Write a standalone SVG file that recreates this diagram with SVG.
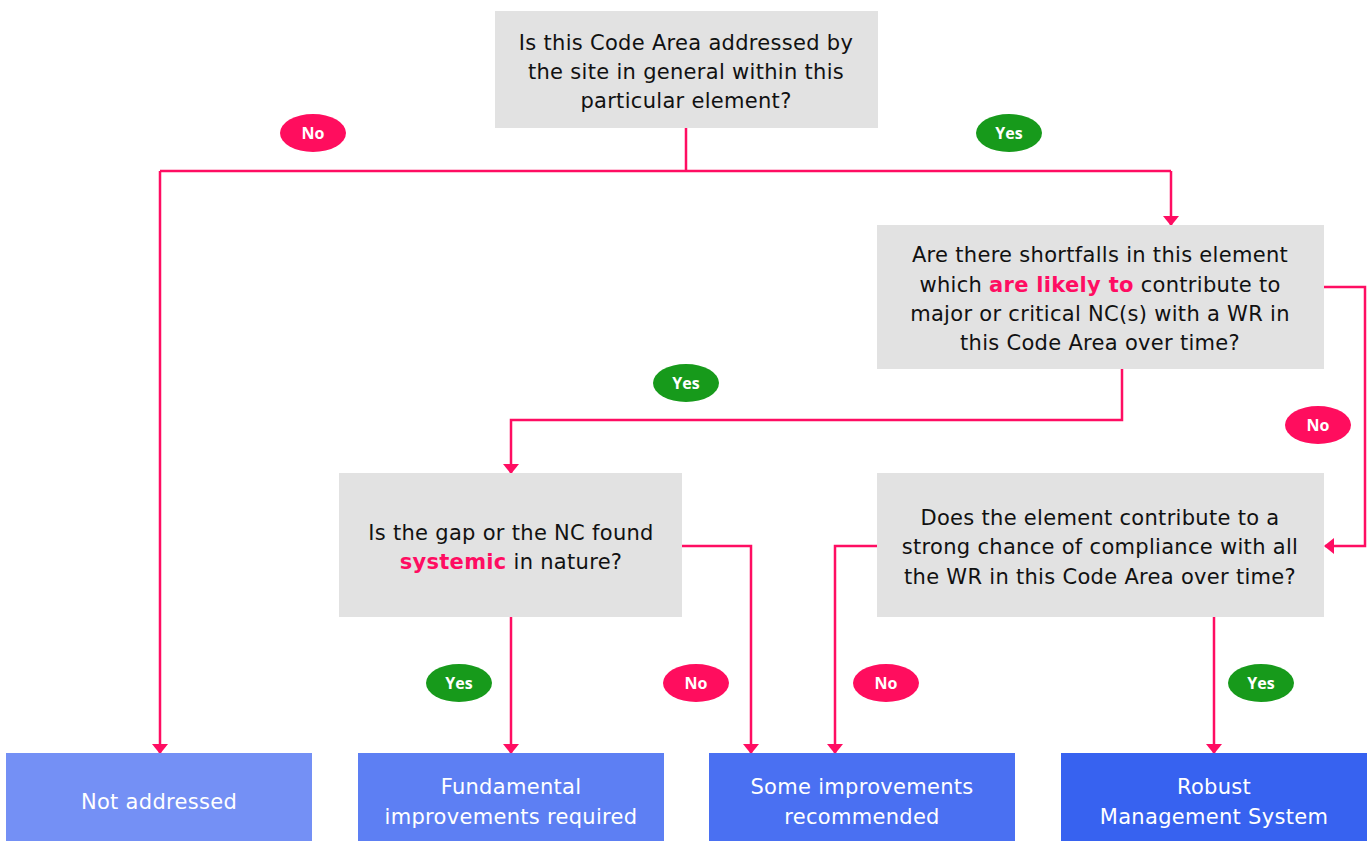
<svg xmlns="http://www.w3.org/2000/svg" width="1367" height="841" viewBox="0 0 1367 841">
<defs>
<marker id="ah" markerWidth="10" markerHeight="16" refX="9" refY="8" orient="auto" markerUnits="userSpaceOnUse">
<path d="M0,0 L10,8 L0,16 Z" fill="#ff0d62"/>
</marker>
<style>
.q{fill:#e2e2e2}
.qt{font-family:"DejaVu Sans","Liberation Sans",sans-serif;font-size:21px;letter-spacing:0.3px;fill:#111;text-anchor:middle}
.hl{fill:#ff0d62;font-weight:700}
.rt{font-family:"DejaVu Sans","Liberation Sans",sans-serif;font-size:21px;letter-spacing:0.3px;fill:#fff;text-anchor:middle}
.c{fill:none;stroke:#ff0d62;stroke-width:2.5}
.yes{fill:#179a1b}
.no{fill:#ff0d5e}
.pt{font-family:"Open Sans","Liberation Sans",sans-serif;font-size:16px;font-weight:700;fill:#fff;text-anchor:middle}
</style>
</defs>
<rect width="1367" height="841" fill="#fff"/>
<g id="connectors">
<path class="c" d="M686,128 V171 M160,171 H1171"/>
<path class="c" d="M160,171 V753" marker-end="url(#ah)"/>
<path class="c" d="M1171,171 V225" marker-end="url(#ah)"/>
<path class="c" d="M1122,369 V420 H511 V473" marker-end="url(#ah)"/>
<path class="c" d="M1324,287 H1365 V546 H1325" marker-end="url(#ah)"/>
<path class="c" d="M682,546 H751 V753" marker-end="url(#ah)"/>
<path class="c" d="M511,617 V753" marker-end="url(#ah)"/>
<path class="c" d="M877,546 H835 V753" marker-end="url(#ah)"/>
<path class="c" d="M1214,617 V753" marker-end="url(#ah)"/>
</g>
<g id="q1">
<rect class="q" x="495" y="11" width="383" height="117"/>
<text class="qt" x="686" y="50">Is this Code Area addressed by</text>
<text class="qt" x="686" y="79">the site in general within this</text>
<text class="qt" x="686" y="108">particular element?</text>
</g>
<g id="q2">
<rect class="q" x="877" y="225" width="447" height="144"/>
<text class="qt" x="1100" y="262">Are there shortfalls in this element</text>
<text class="qt" x="1100" y="292">which <tspan class="hl">are likely to</tspan> contribute to</text>
<text class="qt" x="1100" y="321">major or critical NC(s) with a WR in</text>
<text class="qt" x="1100" y="350">this Code Area over time?</text>
</g>
<g id="q3">
<rect class="q" x="339" y="473" width="343" height="144"/>
<text class="qt" x="511" y="540">Is the gap or the NC found</text>
<text class="qt" x="511" y="569"><tspan class="hl">systemic</tspan> in nature?</text>
</g>
<g id="q4">
<rect class="q" x="877" y="473" width="447" height="144"/>
<text class="qt" x="1100" y="525">Does the element contribute to a</text>
<text class="qt" x="1100" y="554">strong chance of compliance with all</text>
<text class="qt" x="1100" y="584">the WR in this Code Area over time?</text>
</g>
<g id="r1">
<rect x="6" y="753" width="306" height="88" fill="#7490f5"/>
<text class="rt" x="159" y="809">Not addressed</text>
</g>
<g id="r2">
<rect x="358" y="753" width="306" height="88" fill="#5d7ff3"/>
<text class="rt" x="511" y="794">Fundamental</text>
<text class="rt" x="511" y="824">improvements required</text>
</g>
<g id="r3">
<rect x="709" y="753" width="306" height="88" fill="#4a70f2"/>
<text class="rt" x="862" y="794">Some improvements</text>
<text class="rt" x="862" y="824">recommended</text>
</g>
<g id="r4">
<rect x="1061" y="753" width="306" height="88" fill="#3762f0"/>
<text class="rt" x="1214" y="794">Robust</text>
<text class="rt" x="1214" y="824">Management System</text>
</g>
<g id="labels">
<ellipse class="no" cx="313" cy="133" rx="33" ry="19"/><text class="pt" x="313" y="139">No</text>
<ellipse class="yes" cx="1009" cy="133" rx="33" ry="19"/><text class="pt" x="1009" y="139">Yes</text>
<ellipse class="yes" cx="686" cy="383" rx="33" ry="19"/><text class="pt" x="686" y="389">Yes</text>
<ellipse class="no" cx="1318" cy="425" rx="33" ry="19"/><text class="pt" x="1318" y="431">No</text>
<ellipse class="yes" cx="459" cy="683" rx="33" ry="19"/><text class="pt" x="459" y="689">Yes</text>
<ellipse class="no" cx="696" cy="683" rx="33" ry="19"/><text class="pt" x="696" y="689">No</text>
<ellipse class="no" cx="886" cy="683" rx="33" ry="19"/><text class="pt" x="886" y="689">No</text>
<ellipse class="yes" cx="1261" cy="683" rx="33" ry="19"/><text class="pt" x="1261" y="689">Yes</text>
</g>
</svg>
